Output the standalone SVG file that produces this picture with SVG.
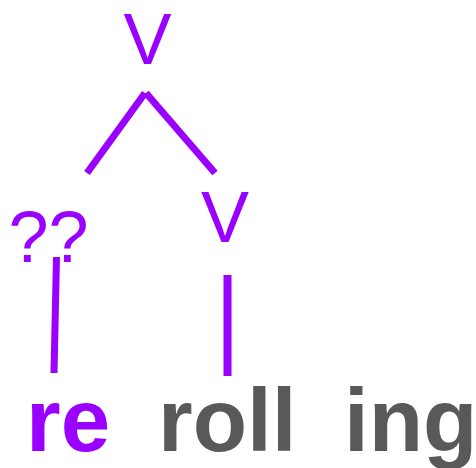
<svg xmlns="http://www.w3.org/2000/svg" width="476" height="468" viewBox="0 0 476 468">
<style>
.lbl{font-family:"Liberation Sans",Arial,sans-serif;font-size:72px;fill:#9900ff;text-anchor:middle}
.word{font-family:"Liberation Sans",Arial,sans-serif;font-size:89px;font-weight:bold}
.edge{stroke:#9900ff;stroke-width:7;fill:none}
</style>
<rect width="476" height="468" fill="#ffffff"/>
<g id="connectors">
<line class="edge" x1="145" y1="93" x2="87" y2="173"/>
<line class="edge" x1="146" y1="93" x2="215" y2="173"/>
<line class="edge" x1="56.5" y1="257" x2="54" y2="373"/>
<line class="edge" x1="227.5" y1="275" x2="227.5" y2="376" style="stroke-width:8"/>
</g>
<g id="node-v-top"><text class="lbl" x="147.5" y="64">V</text></g>
<g id="node-qq"><text class="lbl" x="48.5" y="262">??</text></g>
<g id="node-v-right"><text class="lbl" x="225" y="242">V</text></g>
<g id="node-re"><text class="word" x="26" y="451" fill="#9900ff">re</text></g>
<g id="node-roll"><text class="word" x="158" y="451" fill="#595959">roll</text></g>
<g id="node-ing"><text class="word" x="344" y="451" fill="#595959">ing</text></g>
</svg>
